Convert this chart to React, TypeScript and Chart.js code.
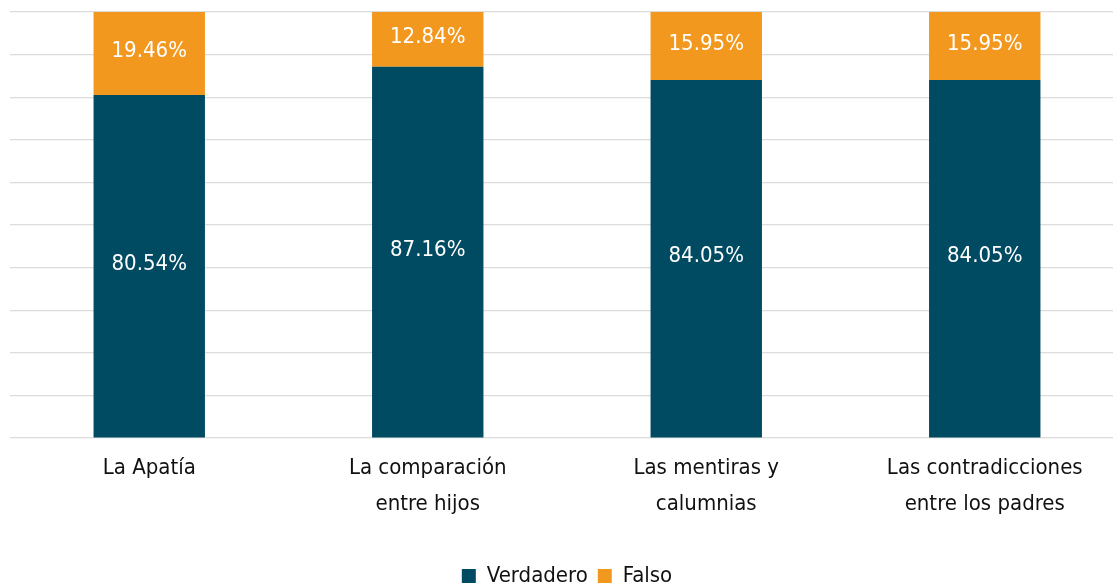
import React, { useEffect, useRef } from "react";
import { Chart, registerables } from "chart.js";

Chart.register(...registerables);

const categories: string[][] = [
  ["La Apatía"],
  ["La comparación", "entre hijos"],
  ["Las mentiras y", "calumnias"],
  ["Las contradicciones", "entre los padres"],
];
const verdadero = [80.54, 87.16, 84.05, 84.05];
const falso = [19.46, 12.84, 15.95, 15.95];
const seriesNames = ["Verdadero", "Falso"];
const yTicks = { min: 0, max: 100, step: 10 };

const FONT = "'Liberation Sans Narrow', 'DejaVu Sans Condensed', 'Arial Narrow', sans-serif";

const labelPlugin = {
  id: "segLabels",
  afterDatasetsDraw(chart: any) {
    const ctx = chart.ctx;
    ctx.save();
    ctx.fillStyle = "#ffffff";
    ctx.font = `22px ${FONT}`;
    ctx.textAlign = "center";
    ctx.textBaseline = "middle";
    chart.data.datasets.forEach((ds: any, i: number) => {
      const meta = chart.getDatasetMeta(i);
      meta.data.forEach((el: any, j: number) => {
        const p = el.getProps(["x", "y", "base"], true);
        const v = ds.data[j] as number;
        ctx.fillText(v.toFixed(2) + "%", p.x, (p.y + p.base) / 2 - 2);
      });
    });
    ctx.restore();
  },
};

export default function App() {
  const ref = useRef<HTMLCanvasElement>(null);
  useEffect(() => {
    if (!ref.current) return;
    const chart = new Chart(ref.current, {
      type: "bar",
      data: {
        labels: categories,
        datasets: [
          { label: seriesNames[0], data: verdadero, backgroundColor: "#004B62" },
          { label: seriesNames[1], data: falso, backgroundColor: "#F2981F" },
        ],
      },
      options: {
        animation: false,
        responsive: false,
        maintainAspectRatio: false,
        layout: { padding: { top: 12, left: 0, right: 0, bottom: -10 } },
        datasets: { bar: { barPercentage: 0.4, categoryPercentage: 1 } },
        scales: {
          x: {
            stacked: true,
            grid: { display: false },
            border: { display: false },
            ticks: {
              color: "#111111",
              font: { family: FONT, size: 22, lineHeight: 1.6 },
              padding: 5,
              maxRotation: 0,
              autoSkip: false,
            },
            afterFit(axis: any) {
              axis.height = 117;
            },
          },
          y: {
            stacked: true,
            min: yTicks.min,
            max: yTicks.max,
            border: { display: false },
            grid: { color: "#dcdcdc", lineWidth: 1.2, drawTicks: false },
            ticks: { display: false, stepSize: yTicks.step },
          },
        },
        plugins: {
          legend: {
            position: "bottom",
            labels: {
              color: "#111111",
              font: { family: FONT, size: 22 },
              boxWidth: 14,
              boxHeight: 14,
              padding: 10,
            },
          },
          tooltip: { enabled: false },
        },
      },
      plugins: [labelPlugin],
    });
    return () => chart.destroy();
  }, []);
  return (
    <div style={{ position: "fixed", left: 0, top: 0, width: 1113, height: 587, overflow: "hidden", background: "#fff" }}>
      <canvas ref={ref} width={1114} height={587} style={{ position: "absolute", left: 10, top: 0 }} />
    </div>
  );
}
